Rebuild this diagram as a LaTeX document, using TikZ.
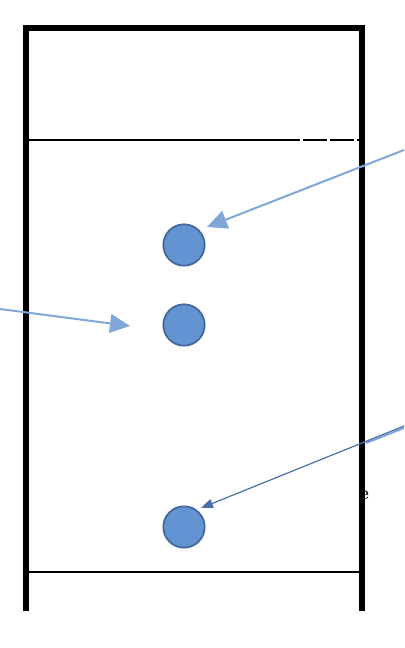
\documentclass[tikz,border=0pt]{standalone}
\usepackage{tikz}
\usetikzlibrary{calc, arrows.meta}

\definecolor{dotfill}{HTML}{6393D0}
\definecolor{dotedge}{HTML}{41679A}
\definecolor{lightarr}{HTML}{7FA7D8}
\definecolor{darkarr}{HTML}{4A70AC}

\begin{document}
\begin{tikzpicture}[x=0.75pt,y=-0.75pt]
\tikzstyle{dot}=[circle,fill=dotfill,draw=dotedge,line width=1.3pt,minimum size=31pt,inner sep=0pt]
\tikzstyle{frame}=[line width=3.8pt]
\tikzstyle{rule}=[line width=1.1pt]
\tikzstyle{lightline}=[lightarr,line width=1.5pt,-{Triangle[length=15pt,width=14pt]}]
\tikzstyle{darkline}=[darkarr,line width=0.9pt,-{Triangle[length=9pt,width=7pt]}]
\useasboundingbox (0,0) rectangle (404,648);
% partly hidden letter behind the frame
\node[font=\Large\bfseries,inner sep=0pt] (E_1) at (364,495) {e};
% frame, open at the bottom
\draw[frame] (26,611) -- (26,28) -- (362,28) -- (362,611);
\draw[rule] (26,140) -- (300,140);
\draw[rule,dash pattern=on 18pt off 2.25pt] (303,140) -- (362,140);
\draw[rule] (26,572) -- (362,572);
% dots
\node[dot] (D_1) at (184,245) {};
\node[dot] (D_2) at (184,325) {};
\node[dot] (D_3) at (184,527) {};
% arrows
\coordinate (A_1) at (404,150);
\coordinate (A_2) at (0,309);
\coordinate (A_3) at (404,426);
\coordinate (T_1) at (207,227);
\coordinate (T_2) at (130,326);
\coordinate (T_3) at (201,508);
\coordinate (S_1) at (366,443);
\coordinate (S_2) at (404,428);
\draw[lightline] (A_1) -- (T_1);
\draw[lightline] (A_2) -- (T_2);
\draw[lightarr,line width=1.5pt] (S_1) -- (S_2);
\draw[darkline] (A_3) -- (T_3);
\end{tikzpicture}
\end{document}
